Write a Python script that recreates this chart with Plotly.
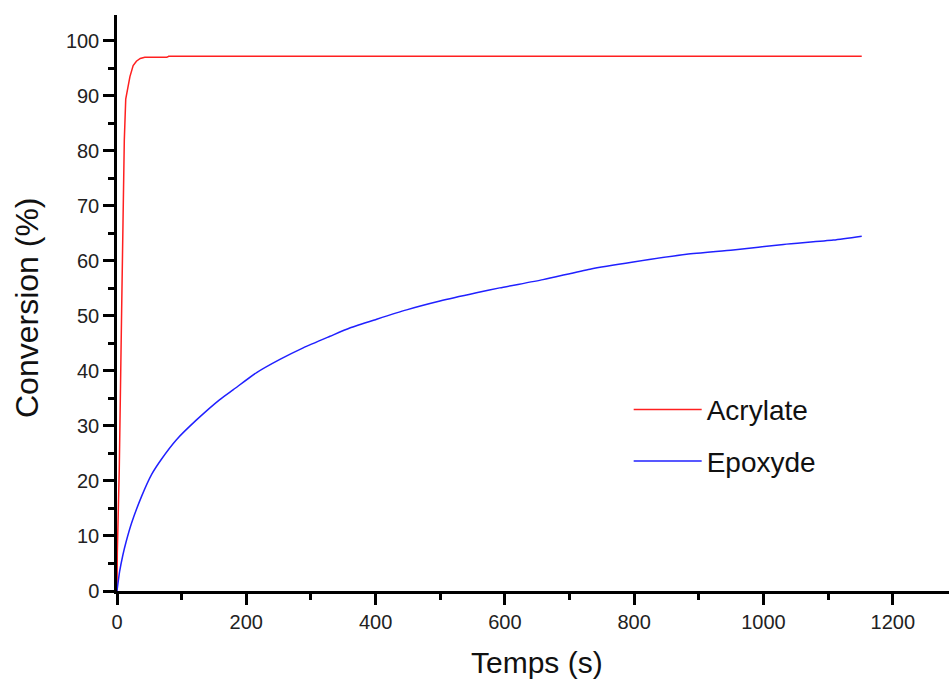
import plotly.graph_objects as go

# Acrylate conversion (%) vs time (s)
acr_t = [0, 0.5, 3.5, 5, 7.3, 9.3, 11.3, 13.5, 15, 20, 25, 30, 36, 43, 60, 77, 80, 1152]
acr_v = [0, 7, 22, 37, 52, 67, 82, 89.4, 90.5, 93.5, 95.5, 96.3, 96.8, 97.0, 97.0, 97.0, 97.2, 97.2]

# Epoxyde conversion (%) vs time (s)
epo_t = [0, 4, 9, 14, 22.7, 38, 53.6, 69, 92, 123, 159, 180, 216, 252, 288, 329.5, 360,
         401.7, 448, 499.6, 556, 592, 659, 731.6, 798.6, 881, 953, 1031, 1108, 1152]
epo_v = [0, 3.5, 6.5, 8.9, 12.4, 17.2, 21.2, 24.0, 27.5, 31.1, 34.8, 36.6, 39.7, 42.1, 44.2, 46.3, 47.8,
         49.4, 51.1, 52.7, 54.2, 55.1, 56.6, 58.5, 59.8, 61.2, 62.0, 63.0, 63.8, 64.5]

x_ticks = [0, 200, 400, 600, 800, 1000, 1200]
y_ticks = [0, 10, 20, 30, 40, 50, 60, 70, 80, 90, 100]

FONT = "Liberation Sans, Arial, sans-serif"

fig = go.Figure()
fig.add_trace(go.Scatter(x=acr_t, y=acr_v, mode="lines", name="Acrylate",
                         line=dict(color="#ff2020", width=1.5), legendgroup="a"))
fig.add_trace(go.Scatter(x=epo_t, y=epo_v, mode="lines", name="Epoxyde",
                         line=dict(color="#2020ff", width=1.5, shape="spline", smoothing=0.6),
                         legendgroup="b"))

axis_common = dict(
    showline=True, linecolor="black", linewidth=2.5, showgrid=False, zeroline=False,
    ticks="outside", ticklen=11, tickwidth=2.5, tickcolor="black", automargin=False,
    tickfont=dict(family=FONT, size=20, color="#222222"),
)

fig.update_xaxes(
    range=[0, 1287], tickvals=x_ticks, ticktext=[str(v) for v in x_ticks],
    minor=dict(ticks="outside", ticklen=6, tickwidth=2.5, tickcolor="black", dtick=100, tick0=0),
    **axis_common,
)
fig.update_yaxes(
    range=[0, 104.7], tickvals=y_ticks, ticktext=[str(v) for v in y_ticks],
    minor=dict(ticks="outside", ticklen=6, tickwidth=2.5, tickcolor="black", dtick=5, tick0=0),
    **axis_common,
)

fig.add_annotation(text="Temps (s)", xref="paper", yref="paper",
                   x=(537 - 117) / 832, y=-(662 - 591) / 576, xanchor="center", yanchor="middle",
                   showarrow=False, font=dict(family=FONT, size=30, color="#111111"))
fig.add_annotation(text="Conversion (%)", xref="paper", yref="paper", textangle=-90,
                   x=-(117 - 27) / 832, y=(591 - 308) / 576, xanchor="center", yanchor="middle",
                   showarrow=False, font=dict(family=FONT, size=32, color="#111111"))

fig.update_layout(
    width=949, height=680,
    margin=dict(l=117, r=0, t=15, b=89),
    paper_bgcolor="white", plot_bgcolor="white",
    showlegend=True,
    legend=dict(
        x=0.615, y=0.358, xanchor="left", yanchor="top",
        bgcolor="rgba(0,0,0,0)", font=dict(family=FONT, size=28, color="#111111"),
        itemwidth=68, tracegroupgap=12,
    ),
)

fig.write_html(
    "out.html",
    config={"displayModeBar": False},
    post_script="document.body.style.margin='0';document.body.style.overflow='hidden';"
                "document.documentElement.style.overflow='hidden';",
)
